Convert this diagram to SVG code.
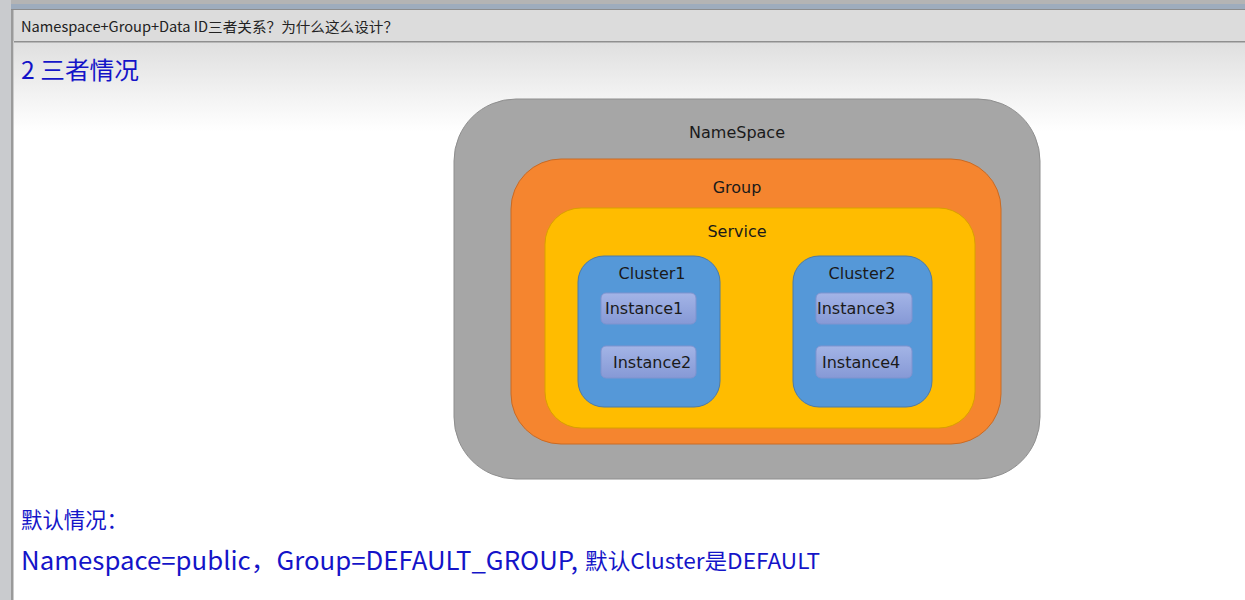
<svg xmlns="http://www.w3.org/2000/svg" width="1245" height="600" viewBox="0 0 1245 600">
<defs>
<linearGradient id="bg" x1="0" y1="0" x2="0" y2="1">
<stop offset="0" stop-color="#dfdfdf"/>
<stop offset="0.7" stop-color="#f6f6f6"/>
<stop offset="1" stop-color="#ffffff"/>
</linearGradient>
<linearGradient id="inst" x1="0" y1="0" x2="0" y2="1">
<stop offset="0" stop-color="#a3b4e6"/>
<stop offset="1" stop-color="#8699d6"/>
</linearGradient>
<style>
.lbl{font-family:"DejaVu Sans",Verdana,sans-serif;font-size:16px;fill:#1a1a1a;text-anchor:middle}
.ilbl{font-family:"DejaVu Sans",Verdana,sans-serif;font-size:16px;fill:#1a1a1a}
.inst{fill:url(#inst);stroke:#7e93cf;stroke-width:1}
.cl{fill:#5598d8;stroke:#4d7aa6;stroke-width:1}
.blue{font-family:"Noto Sans CJK SC","Microsoft YaHei",sans-serif;fill:#1414c8}
</style>
</defs>
<rect x="0" y="0" width="1245" height="600" fill="#ffffff"/>
<rect x="0" y="0" width="1245" height="4" fill="#b4b4b4"/>
<rect x="0" y="4" width="1245" height="6" fill="#9eacbd"/>
<rect x="0" y="10" width="1245" height="31" fill="#dcdcdc"/>
<rect x="0" y="9" width="1245" height="1" fill="#8c8c8c"/>
<rect x="14" y="42" width="1231" height="90" fill="url(#bg)"/>
<rect x="14" y="41" width="1231" height="1.5" fill="#8f8f8f"/>
<rect x="0" y="0" width="11" height="600" fill="#c9cbce"/>
<rect x="11" y="10" width="2.5" height="590" fill="#9a9a9a"/>
<text x="21" y="32" font-family="'Noto Sans CJK SC','Microsoft YaHei',sans-serif" font-size="14" fill="#222" textLength="377" lengthAdjust="spacingAndGlyphs">Namespace+Group+Data ID三者关系？为什么这么设计？</text>
<text class="blue" x="21" y="79" font-size="24" textLength="118" lengthAdjust="spacingAndGlyphs">2 三者情况</text>

<g id="namespace">
<rect x="454" y="99" width="586" height="380" rx="62" ry="62" fill="#a6a6a6" stroke="#8e8e8e" stroke-width="1"/>
<text class="lbl" x="737" y="138">NameSpace</text>
</g>
<g id="group">
<rect x="511" y="159" width="490" height="285" rx="50" ry="50" fill="#f5852f" stroke="#c96a24" stroke-width="1"/>
<text class="lbl" x="737" y="193">Group</text>
</g>
<g id="service">
<rect x="545" y="208" width="430" height="220" rx="36" ry="36" fill="#ffbc00" stroke="#d9a000" stroke-width="1"/>
<text class="lbl" x="737" y="237">Service</text>
</g>
<g id="cluster1">
<rect class="cl" x="578" y="256" width="142" height="151" rx="26" ry="26"/>
<text class="lbl" x="652" y="279">Cluster1</text>
</g>
<g id="cluster2">
<rect class="cl" x="793" y="256" width="139" height="151" rx="26" ry="26"/>
<text class="lbl" x="862" y="279">Cluster2</text>
</g>
<g id="instance1">
<rect class="inst" x="601" y="293" width="95" height="31" rx="5" ry="5"/>
<text class="ilbl" x="605" y="314">Instance1</text>
</g>
<g id="instance2">
<rect class="inst" x="601" y="346" width="95" height="32" rx="5" ry="5"/>
<text class="ilbl" x="613" y="368">Instance2</text>
</g>
<g id="instance3">
<rect class="inst" x="816" y="293" width="96" height="31" rx="5" ry="5"/>
<text class="ilbl" x="817" y="314">Instance3</text>
</g>
<g id="instance4">
<rect class="inst" x="816" y="346" width="96" height="32" rx="5" ry="5"/>
<text class="ilbl" x="822" y="368">Instance4</text>
</g>
<g id="connectors"></g>

<text class="blue" x="21" y="528" font-size="22" textLength="107" lengthAdjust="spacingAndGlyphs">默认情况：</text>
<text class="blue" x="21" y="570" font-size="25" textLength="557" lengthAdjust="spacingAndGlyphs">Namespace=public，Group=DEFAULT_GROUP,</text>
<text class="blue" x="585" y="569" font-size="22" textLength="235" lengthAdjust="spacingAndGlyphs">默认Cluster是DEFAULT</text>
</svg>
